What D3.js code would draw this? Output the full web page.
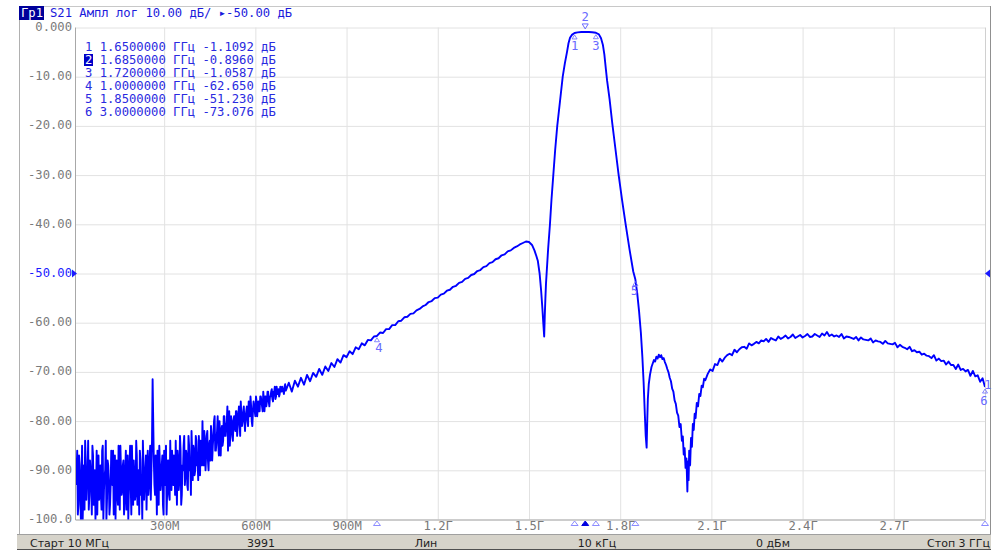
<!DOCTYPE html>
<html>
<head>
<meta charset="utf-8">
<script src="https://cdn.jsdelivr.net/npm/d3@7"></script>
<style>
  body { margin: 0; background: #fff; }
  svg { display: block; }
  .mono { font-family: "DejaVu Sans Mono", monospace; font-size: 12.2px; }
</style>
</head>
<body>
<svg id="chart" width="1003" height="553"></svg>
<script>
// --- axes ---
const xTicks      = [300, 600, 900, 1200, 1500, 1800, 2100, 2400, 2700];
const xTickLabels = ['300М', '600М', '900М', '1.2Г', '1.5Г', '1.8Г', '2.1Г', '2.4Г', '2.7Г'];
const yTicks      = [0, -10, -20, -30, -40, -50, -60, -70, -80, -90, -100];
const yTickLabels = ['0.000', '-10.00', '-20.00', '-30.00', '-40.00', '-50.00', '-60.00', '-70.00', '-80.00', '-90.00', '-100.0'];
const refLevel    = -50;

// --- S21 trace, MHz / dB ---
// low band, noise floor (sweep grid 10 MHz + 4 MHz steps)
const noiseStart = 10, noiseStep = 4;
const noiseDb = [
  -93, -86, -97, -89, -100, -85, -94, -98, -88, -92,
  -84, -95, -90, -99, -87, -93, -100, -86, -91, -96,
  -89, -98, -85, -94, -90, -100, -88, -92, -97, -86,
  -93, -99, -87, -91, -95, -85, -98, -90, -94, -88,
  -96, -86, -92, -100, -89, -93, -85, -97, -91, -95,
  -87, -94, -99, -88, -92, -84, -96, -90, -98, -86,
  -93, -85, -90, -71.5, -88, -95, -91, -86, -97, -89,
  -92, -87, -99, -90, -85, -94, -88, -96, -91, -86,
  -93, -89, -84, -97, -88, -92, -86, -95, -90, -83,
  -91, -87, -94, -85, -89, -82, -92, -86, -90, -84,
  -88, -83, -91, -85, -80, -89, -84, -87, -82, -90,
  -84, -81, -88, -83, -79, -86, -82, -85, -80, -87,
  -81, -84, -79, -83, -80, -86, -78, -82, -80, -84,
  -79, -82, -78, -81, -77, -83, -79, -80, -77, -82,
  -78, -80, -76, -79, -77, -81, -76, -78, -75, -79,
  -76, -78, -75, -77, -74, -78, -75, -76, -74, -77,
  -75, -73.5, -76, -74, -75.5, -73, -74.5, -75, -73, -74,
  -73.5, -74.5, -72.5, -73.5
];
// the sweep points in between (12 MHz + 4 MHz steps)
const noise2Start = 12, noise2Step = 4;
const noise2Db = [
  -90, -99, -87, -95, -92, -100, -89, -84, -96, -91,
  -98, -88, -93, -85, -97, -90, -94, -99, -87, -92,
  -95, -86, -100, -91, -84, -96, -89, -99, -93, -90,
  -86, -94, -100, -88, -97, -92, -85, -95, -89, -99,
  -90, -98, -87, -94, -85, -99, -92, -88, -96, -84,
  -97, -90, -86, -95, -100, -89, -93, -87, -91, -95,
  -88, -96, -84, -80, -93, -87, -99, -92, -85, -94,
  -89, -97, -86, -93, -99, -88, -95, -84, -94, -90,
  -87, -95, -91, -86, -94, -83, -97, -89, -85, -93,
  -86, -93, -83, -90, -95, -87, -85, -91, -83, -89,
  -92, -86, -84, -89, -87, -82, -90, -83, -88, -85,
  -88, -83, -85, -80, -86, -84, -79, -87, -83, -82,
  -85, -79, -83, -81, -77, -82, -85, -79, -83, -80,
  -81, -78, -83, -79, -80, -76, -81, -78, -80, -79,
  -77, -81, -78, -75, -80, -78, -77, -79, -76, -77,
  -78, -75, -76, -78, -76, -75, -77, -74, -76, -75,
  -74, -75.5, -74, -73, -75, -74.5, -73.5, -74.5, -74, -73,
  -74, -73, -73.8
];

// rising slope below the passband (710 MHz + 10 MHz steps)
const midStart = 710, midStep = 10;
const midDb = [
  -72.2, -74.0, -71.8, -73.0, -71.2, -72.6, -70.6, -71.9, -70.2, -71.0,
  -69.4, -70.6, -68.9, -69.8, -68.2, -69.0, -67.4, -68.1, -66.6, -67.0,
  -65.8, -66.4, -65.0, -65.4, -64.2, -64.6, -63.5, -63.6, -62.8, -62.7,
  -62.0, -62.1, -61.3, -61.3, -60.5, -60.5, -59.7, -59.6, -58.9, -58.8,
  -58.2, -58.1, -57.5, -57.2, -56.7, -56.4, -55.8, -55.6, -55.0, -54.9,
  -54.3, -54.1, -53.5, -53.3, -52.7, -52.5, -51.9, -51.7, -51.1, -50.9,
  -50.3, -50.1, -49.5, -49.3, -48.7, -48.5, -47.9, -47.7, -47.1, -46.9,
  -46.3, -46.1, -45.5, -45.3, -44.8, -44.5, -44.1, -43.8
];

// filter response: shoulder, notch, passband, upper skirt
const filterFreq = [
  1490, 1500, 1510, 1518, 1524, 1529, 1535, 1540, 1544, 1547, 1550, 1552, 1554, 1556,
  1558, 1563, 1569, 1574, 1580, 1586, 1593, 1602, 1611, 1618, 1625, 1630, 1635, 1641,
  1650, 1660, 1672, 1685, 1697, 1708, 1720, 1730, 1737, 1743, 1748, 1753, 1757, 1765,
  1774, 1785, 1795, 1806, 1818, 1831, 1843, 1850, 1856, 1862, 1868, 1873, 1877, 1881,
  1884, 1887, 1889, 1891, 1894, 1898, 1903
];
const filterDb = [
  -43.5, -43.6, -44.2, -45.3, -46.4, -47.4, -50.0, -53.5, -57.0, -60.0, -62.8, -58.5, -55.0, -52.0,
  -50.0, -45.0, -40.0, -35.0, -30.0, -25.0, -20.0, -15.0, -10.0, -7.3, -5.0, -3.2, -2.1, -1.5,
  -1.109, -0.98, -0.92, -0.896, -0.91, -0.96, -1.059, -1.4, -2.2, -3.5, -5.5, -8.5, -10.8, -14.5,
  -19.5, -25.0, -30.0, -35.0, -40.0, -45.2, -49.6, -51.23, -54.0, -57.6, -62.0, -67.0, -72.0, -78.5,
  -83.0, -85.4, -80.0, -75.5, -72.5, -70.6, -69.0
];

// second stopband notch near 2.02 GHz
const notchFreq = [
  1907, 1911, 1915, 1919, 1923, 1927, 1931, 1935, 1939, 1943, 1947, 1951, 1955, 1959,
  1963, 1967, 1971, 1975, 1979, 1983, 1987, 1991, 1995, 1999, 2003, 2006, 2009, 2012,
  2015, 2018, 2021, 2023, 2025, 2027, 2030, 2033, 2036, 2039, 2042, 2045, 2048, 2052,
  2056, 2060, 2064, 2068, 2072, 2076, 2080
];
const notchDb = [
  -68.3, -67.6, -67.9, -66.9, -67.3, -66.5, -67.0, -66.6, -67.4, -67.2, -68.0, -68.6, -69.4, -70.1,
  -71.2, -71.9, -73.4, -74.0, -75.8, -76.5, -78.3, -78.9, -81.2, -80.6, -84.0, -83.1, -86.8, -85.5,
  -89.5, -87.6, -94.3, -88.2, -92.0, -86.0, -89.0, -83.4, -85.2, -80.6, -81.8, -78.5, -79.4, -76.3,
  -77.0, -74.5, -74.9, -72.8, -73.1, -71.4, -71.7
];

// upper stopband up to stop frequency (2088 MHz + 8 MHz steps)
const hiStart = 2088, hiStep = 8;
const hiDb = [
  -70.4, -69.5, -69.8, -68.4, -68.6, -67.3, -67.9, -67.1, -66.6, -66.3,
  -66.6, -65.5, -66.0, -65.4, -65.0, -64.9, -65.3, -64.2, -64.6, -64.3,
  -63.9, -64.2, -63.6, -63.8, -63.3, -63.9, -63.1, -63.4, -63.6, -62.8,
  -63.3, -63.0, -62.6, -63.2, -62.9, -62.4, -63.1, -62.8, -62.5, -63.0,
  -62.7, -62.3, -62.9, -62.8, -62.3, -62.6, -62.9, -62.2, -62.6, -61.9,
  -62.7, -62.4, -62.8, -62.6, -62.9, -62.3, -63.2, -62.8, -62.9, -63.1,
  -63.3, -62.9, -63.6, -63.0, -63.4, -63.5, -63.6, -63.2, -64.0, -63.6,
  -63.8, -63.9, -64.3, -63.7, -64.2, -64.3, -64.4, -64.1, -65.0, -64.5,
  -64.9, -65.1, -65.4, -64.9, -65.8, -65.6, -66.0, -65.9, -66.5, -66.3,
  -66.7, -66.8, -67.2, -66.6, -67.7, -67.3, -67.8, -67.7, -68.5, -67.9,
  -68.6, -68.6, -69.4, -68.5, -69.6, -69.4, -69.9, -69.6, -70.8, -69.8,
  -70.9, -70.7, -72.0, -71.3, -73.08
];

// --- markers ---
const markerIds   = [1, 2, 3, 4, 5, 6];
const markerFreq  = [1650, 1685, 1720, 1000, 1850, 3000];
const markerDb    = [-1.1092, -0.8960, -1.0587, -62.650, -51.230, -73.076];
const markerFText = ['1.6500000', '1.6850000', '1.7200000', '1.0000000', '1.8500000', '3.0000000'];
const markerDText = ['-1.1092', '-0.8960', '-1.0587', '-62.650', '-51.230', '-73.076'];
const activeMarker = 2;

// --- status bar ---
const statusItems = ['Старт 10 МГц', '3991', 'Лин', '10 кГц', '0 дБм', 'Стоп 3 ГГц'];

const svg = d3.select('#chart');

const pLeft = 76, pRight = 985, pTop = 27.5, pBottom = 519.5;

const x = d3.scaleLinear().domain([10, 3000]).range([pLeft, pRight]);
const y = d3.scaleLinear().domain([-100, 0]).range([pBottom, pTop]);

// frame
svg.append('line').attr('x1', 19.5).attr('x2', 19.5).attr('y1', 6).attr('y2', 535)
   .attr('stroke', '#b0b0b0');
svg.append('line').attr('x1', 19).attr('x2', 991).attr('y1', 6.5).attr('y2', 6.5)
   .attr('stroke', '#c8c8c8');
svg.append('line').attr('x1', 990.5).attr('x2', 990.5).attr('y1', 6).attr('y2', 535)
   .attr('stroke', '#909090');

// grid
svg.append('g')
   .attr('transform', `translate(0,${pBottom})`)
   .call(d3.axisBottom(x).tickValues(xTicks).tickSize(-(pBottom - pTop)).tickFormat(''))
   .call(g => g.select('.domain').remove())
   .call(g => g.selectAll('line').attr('stroke', '#e2e2e2'));

svg.append('g')
   .attr('transform', `translate(${pLeft},0)`)
   .call(d3.axisLeft(y).tickValues(yTicks).tickSize(-(pRight - pLeft)).tickFormat(''))
   .call(g => g.select('.domain').remove())
   .call(g => g.selectAll('line').attr('stroke', '#e2e2e2'));

// plot border
svg.append('line').attr('x1', pRight + 0.5).attr('x2', pRight + 0.5).attr('y1', pTop).attr('y2', pBottom)
   .attr('stroke', '#d0d0d0');
svg.append('line').attr('x1', pLeft - 0.5).attr('x2', pLeft - 0.5).attr('y1', pTop).attr('y2', pBottom + 0.5)
   .attr('stroke', '#a8a8a8');
svg.append('line').attr('x1', pLeft - 0.5).attr('x2', pRight + 0.5).attr('y1', pBottom + 0.5).attr('y2', pBottom + 0.5)
   .attr('stroke', '#a8a8a8');

// tick labels
svg.append('g')
   .attr('transform', `translate(${pLeft - 1},0)`)
   .call(d3.axisLeft(y).tickValues(yTicks).tickSize(0).tickPadding(3)
           .tickFormat((d, i) => yTickLabels[i]))
   .call(g => g.select('.domain').remove())
   .call(g => g.selectAll('text')
               .attr('font-family', 'DejaVu Sans Mono').attr('font-size', 12.2)
               .attr('y', -1)
               .attr('fill', d => d === refLevel ? '#1a1aff' : '#7a7a7a'));

svg.append('g')
   .attr('transform', `translate(0,${pBottom})`)
   .call(d3.axisBottom(x).tickValues(xTicks).tickSize(0).tickPadding(2)
           .tickFormat((d, i) => xTickLabels[i]))
   .call(g => g.select('.domain').remove())
   .call(g => g.selectAll('text')
               .attr('font-family', 'DejaVu Sans Mono').attr('font-size', 12.2)
               .attr('fill', '#7a7a7a'));

// reference level pointers
svg.append('path')
   .attr('d', `M${pLeft - 4},${y(refLevel) - 4}L${pLeft + 1},${y(refLevel)}L${pLeft - 4},${y(refLevel) + 4}Z`)
   .attr('fill', '#1a1aff');
svg.append('path')
   .attr('d', `M${pRight + 5},${y(refLevel) - 4}L${pRight},${y(refLevel)}L${pRight + 5},${y(refLevel) + 4}Z`)
   .attr('fill', '#1a1aff');

// trace
const trace = [];
noiseDb.forEach((v, i) => trace.push([noiseStart + i * noiseStep, v]));
noise2Db.forEach((v, i) => trace.push([noise2Start + i * noise2Step, v]));
midDb.forEach((v, i) => trace.push([midStart + i * midStep, v]));
filterFreq.forEach((f, i) => trace.push([f, filterDb[i]]));
notchFreq.forEach((f, i) => trace.push([f, notchDb[i]]));
hiDb.forEach((v, i) => trace.push([hiStart + i * hiStep, v]));
trace.sort((a, b) => a[0] - b[0]);

svg.append('clipPath').attr('id', 'plotClip')
   .append('rect').attr('x', pLeft).attr('y', pTop - 2).attr('width', pRight - pLeft).attr('height', pBottom - pTop + 2);

const line = d3.line().x(d => x(d[0])).y(d => y(d[1]));

svg.append('path')
   .datum(trace)
   .attr('clip-path', 'url(#plotClip)')
   .attr('d', line)
   .attr('fill', 'none')
   .attr('stroke', '#0000ff')
   .attr('stroke-width', 1.9)
   .attr('stroke-linejoin', 'round');

// markers on the trace
const mkColor = '#6a6aff';
const mk = svg.append('g').attr('class', 'mono');
markerIds.forEach((id, i) => {
	const px = x(markerFreq[i]);
	const py = y(markerDb[i]);
	if ( id === activeMarker ) {
		mk.append('path')
		  .attr('d', `M${px - 3},${py - 8}L${px + 3},${py - 8}L${px},${py - 3}Z`)
		  .attr('fill', 'none').attr('stroke', mkColor);
		mk.append('text').attr('x', px).attr('y', py - 11)
		  .attr('text-anchor', 'middle').attr('fill', mkColor).text(id);
	} else {
		let lx = px, ly = py + 17;
		if ( id === 4 ) { lx = px + 2; ly = py + 16; }
		if ( id === 5 ) { lx = px - 1; ly = py + 15; }
		if ( id === 6 ) { lx = px - 1; ly = py + 18; }
		mk.append('path')
		  .attr('d', `M${px - 2.5},${py + 6}L${px + 2.5},${py + 6}L${px},${py + 2}Z`)
		  .attr('fill', 'none').attr('stroke', mkColor).attr('stroke-width', 0.8);
		mk.append('text').attr('x', lx).attr('y', ly)
		  .attr('text-anchor', 'middle').attr('fill', mkColor).text(id);
	}
	// marker stimulus pointer under the x axis
	mk.append('path')
	  .attr('d', `M${px - 3.5},${pBottom + 6}L${px + 3.5},${pBottom + 6}L${px},${pBottom + 1.5}Z`)
	  .attr('fill', id === activeMarker ? '#0000e0' : 'none')
	  .attr('stroke', id === activeMarker ? '#0000e0' : '#8c8cff');
});
// trace number at the end of the trace
mk.append('text').attr('x', pRight + 3).attr('y', y(markerDb[5]) + 2)
  .attr('text-anchor', 'middle').attr('fill', mkColor).text('1');

// header
svg.append('rect').attr('x', 19).attr('y', 6).attr('width', 25).attr('height', 14).attr('fill', '#00009a');
svg.append('text').attr('class', 'mono').attr('x', 21).attr('y', 17)
   .attr('fill', '#ffffff').text('Гр1');
svg.append('text').attr('class', 'mono').attr('x', 50).attr('y', 17)
   .attr('fill', '#1a1adc').attr('xml:space', 'preserve')
   .text('S21 Ампл лог 10.00 дБ/ ▸-50.00 дБ');

// marker table
const table = svg.append('g').attr('class', 'mono');
markerIds.forEach((id, i) => {
	const ty = 51 + i * 13;
	if ( id === activeMarker ) {
		table.append('rect').attr('x', 84).attr('y', ty - 10).attr('width', 9).attr('height', 12)
		     .attr('fill', '#0000c8');
	}
	table.append('text').attr('x', 85).attr('y', ty)
	     .attr('fill', id === activeMarker ? '#ffffff' : '#2a2ae0').text(id);
	table.append('text').attr('x', 85 + 14.7).attr('y', ty)
	     .attr('fill', '#2a2ae0').attr('xml:space', 'preserve')
	     .text(`${markerFText[i]} ГГц ${markerDText[i]} дБ`);
});

// status bar
svg.append('rect').attr('x', 17).attr('y', 535).attr('width', 974).attr('height', 14).attr('fill', '#d6d3ca');
svg.append('line').attr('x1', 17).attr('x2', 991).attr('y1', 534.5).attr('y2', 534.5).attr('stroke', '#a0a0a0');
svg.append('line').attr('x1', 17).attr('x2', 991).attr('y1', 549.5).attr('y2', 549.5).attr('stroke', '#505050');
const statusX      = [30, 261, 426, 597, 773, 990];
const statusAnchor = ['start', 'middle', 'middle', 'middle', 'middle', 'end'];
svg.append('g').selectAll('text')
   .data(statusItems)
   .join('text')
   .attr('x', (d, i) => statusX[i])
   .attr('y', 546.5)
   .attr('text-anchor', (d, i) => statusAnchor[i])
   .attr('font-family', 'DejaVu Sans')
   .attr('font-size', 11)
   .attr('fill', '#1e1e1e')
   .text(d => d);
</script>
</body>
</html>
